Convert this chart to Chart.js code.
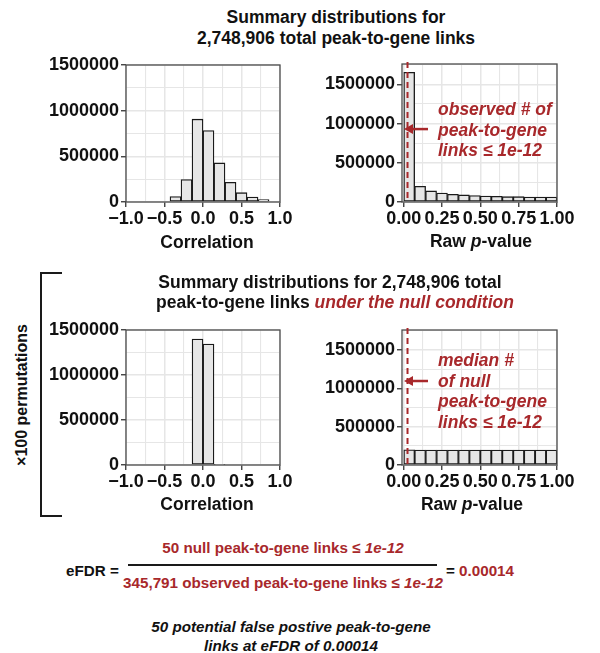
<!DOCTYPE html>
<html>
<head>
<meta charset="utf-8">
<title>eFDR summary distributions</title>
<script src="https://cdn.jsdelivr.net/npm/chart.js@4.4.1/dist/chart.umd.min.js"></script>
<style>
  body { margin: 0; background: #fff; }
  #fig {
    position: relative; width: 600px; height: 653px; overflow: hidden;
    font-family: "Liberation Sans", Arial, sans-serif; font-weight: bold;
    font-size: 17.5px; color: #111;
  }
  #fig canvas { position: absolute; }
  .t { position: absolute; white-space: nowrap; }
  .c { transform: translate(-50%, -50%); }
  .m { transform: translateY(-50%); }
  .eq { font-size: 15.2px; }
  .red { color: #a8282b; }
  .it { font-style: italic; }
  .note { line-height: 20.5px; font-style: italic; color: #a8282b; }
  #bracket {
    position: absolute; left: 40px; top: 272px; width: 22px; height: 245px;
    border: 2px solid #1a1a1a; border-right: none; box-sizing: border-box;
  }
  #perm { transform: translate(-50%, -50%) rotate(-90deg); font-size: 16px; }
  #fracline { position: absolute; left: 128px; top: 564px; width: 309px; height: 2px; background: #1a1a1a; }
</style>
</head>
<body>
<div id="fig">
  <div class="t c" style="left:336px; top:17px;">Summary distributions for</div>
  <div class="t c" style="left:336px; top:38px;">2,748,906 total peak-to-gene links</div>

  <canvas id="corrObserved" width="300" height="210" style="left:0; top:50px;"></canvas>
  <canvas id="pvalObserved" width="300" height="210" style="left:300px; top:50px;"></canvas>
  <div class="t c" style="left:207px; top:242px;">Correlation</div>
  <div class="t c" style="left:481px; top:241px;">Raw <span class="it">p</span>-value</div>
  <div class="t note" style="left:438px; top:99px;">observed # of<br>peak-to-gene<br>links ≤ 1e-12</div>

  <div class="t c" style="left:330px; top:282px;">Summary distributions for 2,748,906 total</div>
  <div class="t c" style="left:335px; top:302px;">peak-to-gene links <span class="red it">under the null condition</span></div>

  <div id="bracket"></div>
  <div class="t" id="perm" style="left:22px; top:395px;">×100 permutations</div>

  <canvas id="corrNull" width="300" height="210" style="left:0; top:315px;"></canvas>
  <canvas id="pvalNull" width="300" height="210" style="left:300px; top:315px;"></canvas>
  <div class="t c" style="left:207px; top:504px;">Correlation</div>
  <div class="t c" style="left:472px; top:504px;">Raw <span class="it">p</span>-value</div>
  <div class="t note" style="left:438px; top:350px;">median #<br>of null<br>peak-to-gene<br>links ≤ 1e-12</div>

  <div class="t m eq" style="left:66px; top:570px;">eFDR =</div>
  <div class="t c eq red" style="left:283px; top:547px;">50 null peak-to-gene links ≤ <span class="it">1e-12</span></div>
  <div id="fracline"></div>
  <div class="t c eq red" style="left:283px; top:582px;">345,791 observed peak-to-gene links ≤ <span class="it">1e-12</span></div>
  <div class="t m eq" style="left:446px; top:570px;">= <span class="red">0.00014</span></div>

  <div class="t c eq it" style="left:291px; top:626px;">50 potential false postive peak-to-gene</div>
  <div class="t c eq it" style="left:291px; top:645px;">links at eFDR of 0.00014</div>
</div>

<script>
const RED = '#a8282b';

const corrBinCenters = [-0.357, -0.214, -0.071, 0.071, 0.214, 0.357, 0.5, 0.643, 0.786];
const corrObservedCounts = [60000, 245000, 907000, 783000, 428000, 216000, 102000, 55000, 26000];
const corrNullBinCenters = [-0.071, 0.071, 0.214];
const corrNullCounts = [1400000, 1344000, 6000];

const pvalBinCenters = [0.036, 0.107, 0.179, 0.25, 0.321, 0.393, 0.464,
  0.536, 0.607, 0.679, 0.75, 0.821, 0.893, 0.964];
const pvalObservedCounts = [1654000, 200000, 141000, 115000, 98000, 90000, 81000,
  77000, 72000, 68000, 68000, 64000, 64000, 64000];
const pvalNullCounts = [199000, 196000, 196000, 196000, 196000, 196000, 196000,
  196000, 196000, 196000, 196000, 196000, 196000, 196000];

const corrTicks = [-1, -0.5, 0, 0.5, 1];
const corrTickLabels = ['\u22121.0', '\u22120.5', '0.0', '0.5', '1.0'];
const corrGrid = [-1, -0.75, -0.5, -0.25, 0, 0.25, 0.5, 0.75, 1];
const pvalTicks = [0, 0.25, 0.5, 0.75, 1];
const pvalTickLabels = ['0.00', '0.25', '0.50', '0.75', '1.00'];
const pvalGrid = [0, 0.125, 0.25, 0.375, 0.5, 0.625, 0.75, 0.875, 1];
const countTicks = [0, 500000, 1000000, 1500000];
const countTickLabels = ['0', '500000', '1000000', '1500000'];
const countGridCorr = [0, 250000, 500000, 750000, 1000000, 1250000, 1500000];
const countGridPval = [0, 250000, 500000, 750000, 1000000, 1250000, 1500000, 1750000];

const pCutoff = 0.025;
const observedArrowAt = 930000;
const nullArrowAt = 1095000;

Chart.defaults.font.family = '"Liberation Sans", Arial, sans-serif';
Chart.defaults.font.size = 18;
Chart.defaults.font.weight = 'bold';
Chart.defaults.color = '#111';

// panel border, plus the dashed cut-off line and arrow on the p-value panels
const panelDecor = {
  id: 'panelDecor',
  afterDatasetsDraw(chart, args, opts) {
    const {ctx, chartArea: area, scales} = chart;
    ctx.save();
    ctx.strokeStyle = '#4d4d4d';
    ctx.lineWidth = 1.3;
    ctx.strokeRect(area.left, area.top, area.width, area.height);
    if (opts.cutoff !== undefined) {
      const x = scales.x.getPixelForValue(opts.cutoff);
      const y = scales.y.getPixelForValue(opts.arrowAt);
      ctx.strokeStyle = RED;
      ctx.fillStyle = RED;
      ctx.lineWidth = 2;
      ctx.setLineDash([6, 4]);
      ctx.beginPath();
      ctx.moveTo(x, area.top - 2);
      ctx.lineTo(x, area.bottom);
      ctx.stroke();
      ctx.setLineDash([]);
      const tip = x - 3.5;
      ctx.lineWidth = 2.5;
      ctx.beginPath();
      ctx.moveTo(tip + 6, y);
      ctx.lineTo(x + 20.5, y);
      ctx.stroke();
      ctx.beginPath();
      ctx.moveTo(tip, y);
      ctx.lineTo(tip + 9, y - 5);
      ctx.lineTo(tip + 9, y + 5);
      ctx.closePath();
      ctx.fill();
    }
    ctx.restore();
  },
};

function isIn(list, v) {
  return list.some((t) => Math.abs(t - v) < 1e-9);
}

function labelFor(ticks, labels, v) {
  const i = ticks.findIndex((t) => Math.abs(t - v) < 1e-9);
  return i >= 0 ? labels[i] : '';
}

function histConfig(p) {
  return {
    type: 'bar',
    data: {
      datasets: [{
        data: p.centers.map((c, i) => ({x: c, y: p.counts[i]})),
        backgroundColor: '#e6e6e6',
        borderColor: '#1a1a1a',
        borderWidth: 1.3,
        borderSkipped: false,
        barThickness: 'flex',
        barPercentage: 1,
        categoryPercentage: 1,
      }],
    },
    options: {
      responsive: false,
      animation: false,
      events: [],
      layout: {padding: {left: 0, top: p.top, right: p.right, bottom: 0}},
      plugins: {
        legend: {display: false},
        tooltip: {enabled: false},
        panelDecor: {cutoff: p.cutoff, arrowAt: p.arrowAt},
      },
      scales: {
        x: {
          type: 'linear',
          min: p.xMin,
          max: p.xMax,
          offset: false,
          afterBuildTicks: (s) => { s.ticks = p.xGrid.map((v) => ({value: v})); },
          afterFit: (s) => { s.height = p.xHeight; },
          border: {display: false},
          grid: {
            offset: false,
            color: '#e6e6e6',
            lineWidth: (c) => (c.tick && isIn(p.xTicks, c.tick.value) ? 1.5 : 1.1),
            tickLength: 5,
            tickWidth: 1.3,
            tickColor: (c) => (c.tick && isIn(p.xTicks, c.tick.value) ? '#333' : 'rgba(0,0,0,0)'),
          },
          ticks: {
            autoSkip: false,
            maxRotation: 0,
            padding: 1,
            callback: (v) => labelFor(p.xTicks, p.xLabels, v),
          },
        },
        y: {
          type: 'linear',
          min: 0,
          max: p.yMax,
          afterBuildTicks: (s) => { s.ticks = p.yGrid.map((v) => ({value: v})); },
          afterFit: (s) => { s.width = p.yWidth; },
          border: {display: false},
          grid: {
            color: '#e6e6e6',
            lineWidth: (c) => (c.tick && isIn(countTicks, c.tick.value) ? 1.5 : 1.1),
            tickLength: 5,
            tickWidth: 1.3,
            tickColor: (c) => (c.tick && isIn(countTicks, c.tick.value) ? '#333' : 'rgba(0,0,0,0)'),
          },
          ticks: {
            autoSkip: false,
            padding: 2,
            callback: (v) => labelFor(countTicks, countTickLabels, v),
          },
        },
      },
    },
    plugins: [panelDecor],
  };
}

const corrAxis = {xMin: -1, xMax: 1, xTicks: corrTicks, xLabels: corrTickLabels, xGrid: corrGrid,
  yMax: 1500000, yGrid: countGridCorr, yWidth: 126, right: 20};
const pvalAxis = {xMin: -0.011, xMax: 1, xTicks: pvalTicks, xLabels: pvalTickLabels, xGrid: pvalGrid,
  yMax: 1760000, yGrid: countGridPval, yWidth: 102, right: 43};

new Chart(document.getElementById('corrObserved'), histConfig({...corrAxis,
  centers: corrBinCenters, counts: corrObservedCounts, top: 15, xHeight: 58}));
new Chart(document.getElementById('pvalObserved'), histConfig({...pvalAxis,
  centers: pvalBinCenters, counts: pvalObservedCounts, top: 14, xHeight: 58,
  cutoff: pCutoff, arrowAt: observedArrowAt}));
new Chart(document.getElementById('corrNull'), histConfig({...corrAxis,
  centers: corrNullBinCenters, counts: corrNullCounts, top: 15, xHeight: 60}));
new Chart(document.getElementById('pvalNull'), histConfig({...pvalAxis,
  centers: pvalBinCenters, counts: pvalNullCounts, top: 15, xHeight: 60,
  cutoff: pCutoff, arrowAt: nullArrowAt}));
</script>
</body>
</html>
